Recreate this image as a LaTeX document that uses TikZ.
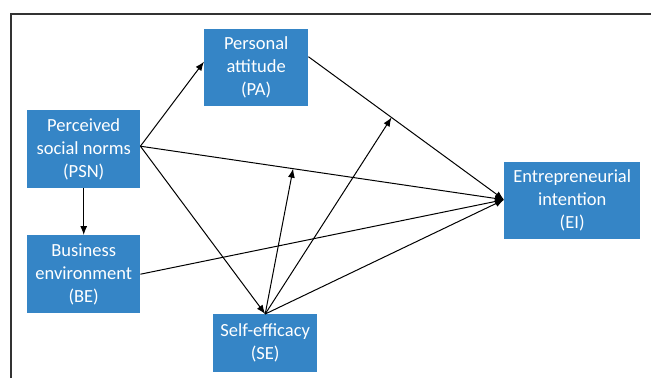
\documentclass[tikz,border=0pt]{standalone}
\usepackage{fontspec}
\setmainfont{Carlito}
\usetikzlibrary{arrows.meta,calc}
\definecolor{boxblue}{RGB}{53,133,198}
\definecolor{framegray}{RGB}{51,51,51}
\tikzset{
  x=1pt,y=-1pt,
  varbox/.style={fill=boxblue,draw=none,text=white,font=\fontsize{18.5}{23}\selectfont,align=center,inner sep=0pt,anchor=north west},
  conn/.style={line width=1pt,-{Latex[length=9pt,width=7pt]}},
  framel/.style={line width=1.8pt,draw=framegray}
}
\begin{document}
\begin{tikzpicture}
\useasboundingbox (0,0) rectangle (651,378);
\draw[framel] (11,378) -- (11,14) -- (651,14);
\node[varbox,minimum width=104pt,minimum height=77pt] (PA) at (204,29) {Personal\\attitude\\(PA)};
\node[varbox,minimum width=113pt,minimum height=78pt] (PSN) at (27,110) {Perceived\\social norms\\(PSN)};
\node[varbox,minimum width=113pt,minimum height=78pt] (BE) at (27,235) {Business\\environment\\(BE)};
\node[varbox,minimum width=104pt,minimum height=58pt] (SE) at (213,314) {Self-efficacy\\(SE)};
\node[varbox,minimum width=136pt,minimum height=77pt] (EI) at (504,162) {Entrepreneurial\\intention\\(EI)};
\coordinate (psnout) at ($(PSN.east)+(0,-3)$);
\coordinate (pain) at ($(PA.west)+(0,-6)$);
\coordinate (paout) at ($(PA.east)+(0,-11)$);
\coordinate (eiin) at ($(EI.west)+(0,-1)$);
\draw[conn] (psnout) -- (pain);
\draw[conn] (PSN.south) -- (BE.north);
\draw[conn] (psnout) -- (eiin);
\draw[conn] (paout) -- (eiin);
\draw[conn] (psnout) -- (SE.north);
\draw[conn] (BE.east) -- (eiin);
\draw[conn] (SE.north) -- (eiin);
\coordinate (m1) at ($(psnout)!0.42!(eiin)$);
\coordinate (m2) at ($(paout)!0.425!(eiin)$);
\draw[conn] (SE.north) -- (m1);
\draw[conn] (SE.north) -- (m2);
\end{tikzpicture}
\end{document}
